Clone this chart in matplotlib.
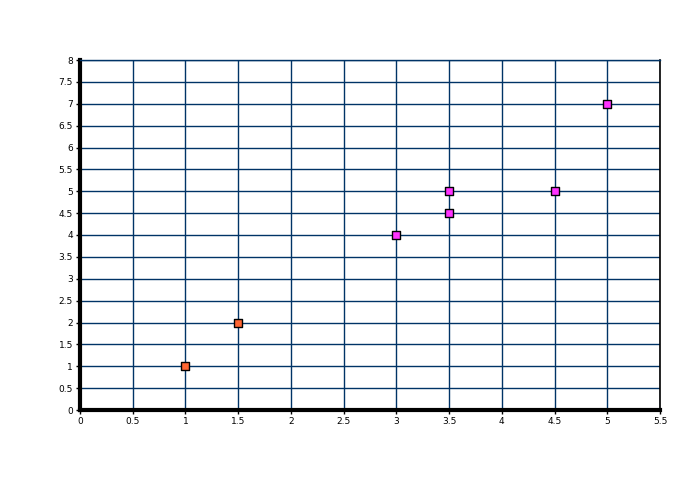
import matplotlib
matplotlib.use("Agg")
import matplotlib.pyplot as plt
import numpy as np

s1_x = [1, 1.5]
s1_y = [1, 2]
s2_x = [3, 3.5, 3.5, 4.5, 5]
s2_y = [4, 4.5, 5, 5, 7]
xticks = np.arange(0, 5.51, 0.5)
yticks = np.arange(0, 8.01, 0.5)

fig = plt.figure(figsize=(6.8, 5.0), dpi=100)
ax = fig.add_axes([80/680, 90/500, 580/680, 350/500])
ax.set_xlim(0, 5.5)
ax.set_ylim(0, 8)
ax.set_xticks(xticks)
ax.set_yticks(yticks)
fmt = lambda v: ('%g' % v)
ax.set_xticklabels([fmt(v) for v in xticks])
ax.set_yticklabels([fmt(v) for v in yticks])
ax.grid(True, color='#003366', linewidth=1.0)
ax.set_axisbelow(True)
ax.tick_params(labelsize=6.5, length=3, width=1, pad=2, color='black')
for side in ['left', 'bottom']:
    ax.spines[side].set_linewidth(3)
    ax.spines[side].set_color('black')
ax.spines['right'].set_linewidth(1.2)
ax.spines['right'].set_color('black')
ax.spines['top'].set_linewidth(1)
ax.spines['top'].set_color('#003366')

ax.scatter(s1_x, s1_y, marker='s', s=38, facecolor='#FF6633', edgecolor='black', linewidth=1, zorder=5, clip_on=False)
ax.scatter(s2_x, s2_y, marker='s', s=38, facecolor='#FF33FF', edgecolor='black', linewidth=1, zorder=5, clip_on=False)

fig.savefig('out.png', dpi=100)
